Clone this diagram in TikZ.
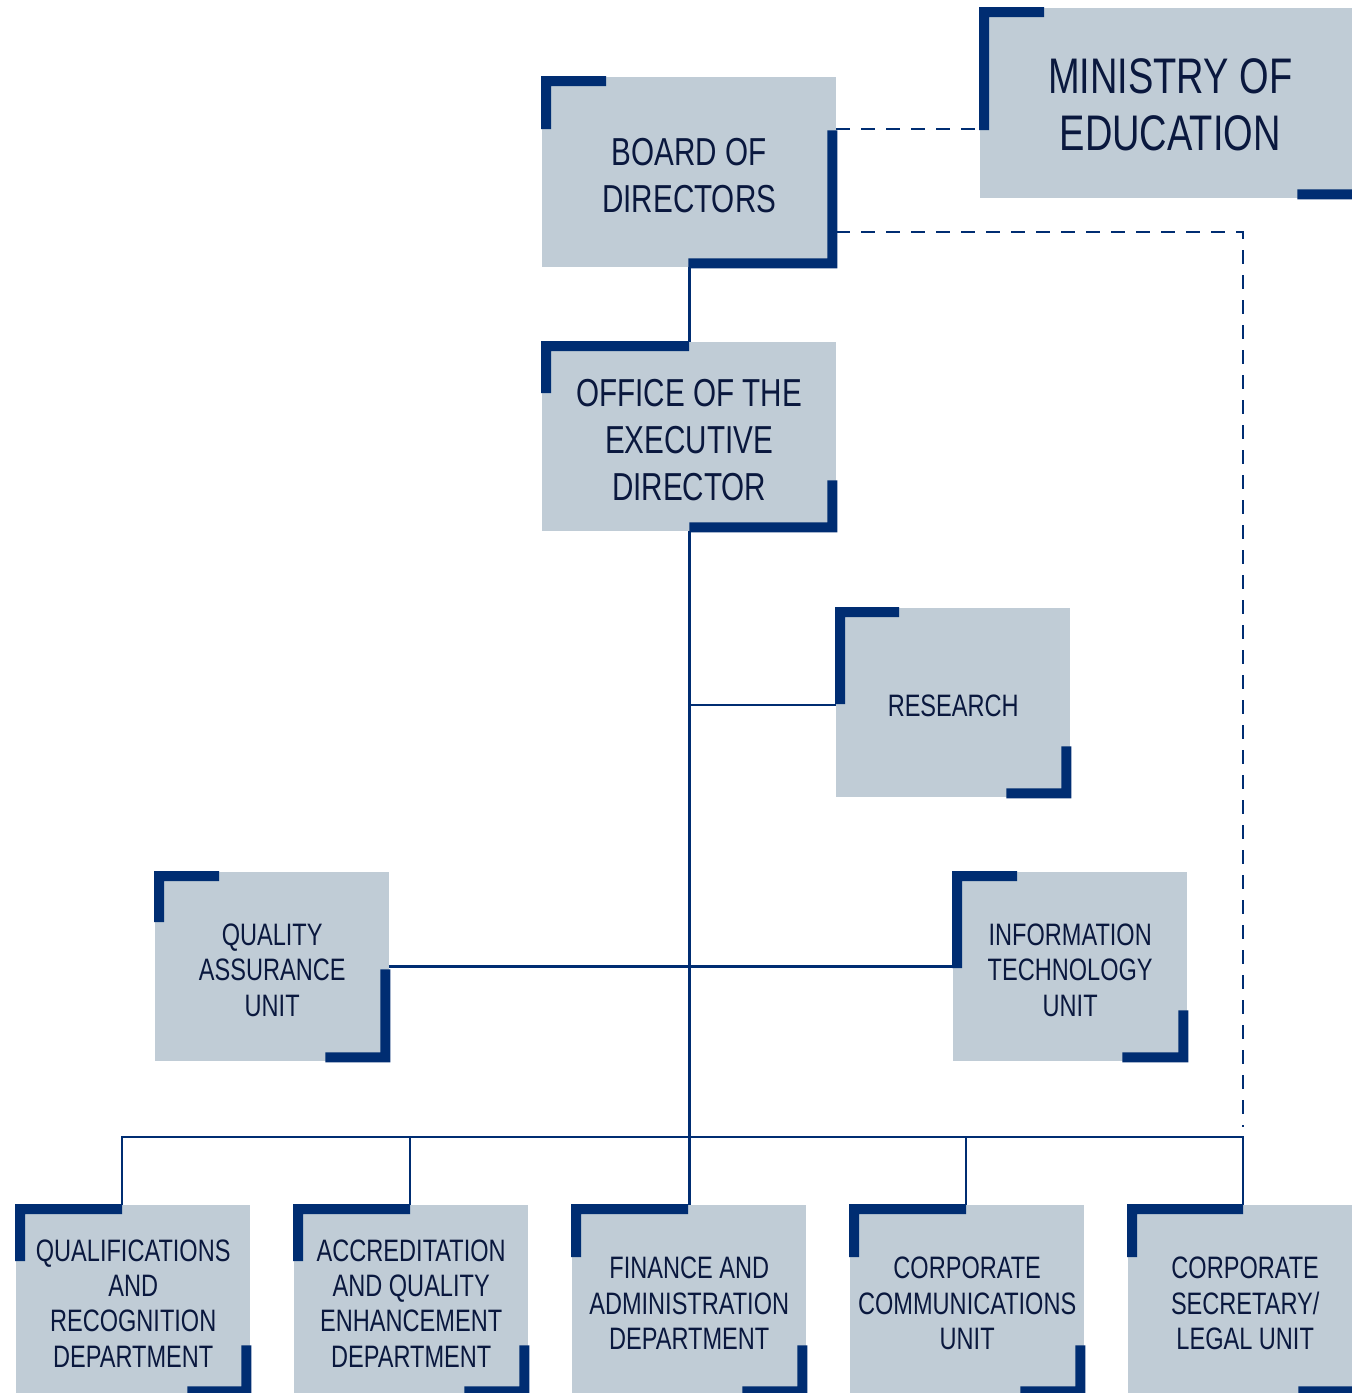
\documentclass[tikz,border=0pt]{standalone}
\usepackage{fontspec}
\setmainfont{Liberation Sans}[FakeStretch=0.76]
\definecolor{boxfill}{RGB}{192,204,214}
\definecolor{navy}{RGB}{0,45,114}
\definecolor{txt}{RGB}{10,24,62}
\newcommand\brk[5]{%
  \fill[navy] ([shift={(-1,-1)}]#1.north west) -- ++(#2,0) -- ++(0,10) -- ++(-#2+10,0) -- ++(0,#3-10) -- ++(-10,0) -- cycle;
  \fill[navy] ([shift={(1,1)}]#1.south east) -- ++(-#4,0) -- ++(0,-10) -- ++(#4-10,0) -- ++(0,-#5+10) -- ++(10,0) -- cycle;
}
\newcommand\lines[1]{\raisebox{-7pt}[\height][\depth]{\begin{tabular}{@{}c@{}}#1\end{tabular}}}
\begin{document}
\begin{tikzpicture}[x=1pt,y=-1pt,
  orgbox/.style={fill=boxfill, inner sep=0pt, anchor=north west, text=txt},
  hugetext/.style={font=\fontsize{50}{57}\selectfont},
  bigtext/.style={font=\fontsize{39}{47}\selectfont},
  smalltext/.style={font=\fontsize{31}{35.3}\selectfont},
  conn/.style={draw=navy, line width=2.6pt},
  dsh/.style={draw=navy, line width=2.6pt, dash pattern=on 14pt off 11pt}]
\clip (0,0) rectangle (1352,1393);
\fill[white] (0,0) rectangle (1352,1393);
% boxes
\node[orgbox, hugetext, minimum width=386pt, minimum height=190pt] (ministry) at (980,8) {\hspace*{-6pt}\lines{MINISTRY OF\\EDUCATION}};
\node[orgbox, bigtext, minimum width=294pt, minimum height=190pt] (board) at (542,77) {\lines{BOARD OF\\DIRECTORS}};
\node[orgbox, bigtext, minimum width=294pt, minimum height=189pt] (office) at (542,342) {\lines{OFFICE OF THE\\EXECUTIVE\\DIRECTOR}};
\node[orgbox, smalltext, minimum width=234pt, minimum height=189pt] (research) at (836,608) {\lines{RESEARCH}};
\node[orgbox, smalltext, minimum width=234pt, minimum height=189pt] (qa) at (155,872) {\lines{QUALITY\\ASSURANCE\\UNIT}};
\node[orgbox, smalltext, minimum width=234pt, minimum height=189pt] (it) at (953,872) {\lines{INFORMATION\\TECHNOLOGY\\UNIT}};
\node[orgbox, smalltext, minimum width=234pt, minimum height=190pt] (qual) at (16,1205) {\lines{QUALIFICATIONS\\AND\\RECOGNITION\\DEPARTMENT}};
\node[orgbox, smalltext, minimum width=234pt, minimum height=190pt] (acc) at (294,1205) {\lines{ACCREDITATION\\AND QUALITY\\ENHANCEMENT\\DEPARTMENT}};
\node[orgbox, smalltext, minimum width=234pt, minimum height=190pt] (fin) at (572,1205) {\lines{FINANCE AND\\ADMINISTRATION\\DEPARTMENT}};
\node[orgbox, smalltext, minimum width=234pt, minimum height=190pt] (comm) at (850,1205) {\lines{CORPORATE\\COMMUNICATIONS\\UNIT}};
\node[orgbox, smalltext, minimum width=234pt, minimum height=190pt] (legal) at (1128,1205) {\lines{CORPORATE\\SECRETARY/\\LEGAL UNIT}};
% coordinates
\coordinate (busL) at (122,1137);
\coordinate (busR) at (1243,1137);
\coordinate (d1) at (978,129);
\coordinate (d2) at (1243,232);
\coordinate (d2s) at (836,232);
\coordinate (d1s) at (836,129);
\coordinate (rs) at (690,705);
\coordinate (re) at (836,705);
\coordinate (f1) at ([shift={(106,0)}]qual.north west);
\coordinate (f2) at ([shift={(116,0)}]acc.north west);
\coordinate (f4) at ([shift={(116,0)}]comm.north west);
\coordinate (f5) at ([shift={(115,0)}]legal.north west);
% connectors
\draw[conn] (board.south) -- (office.north);
\draw[conn] (office.south) -- (fin.north);
\draw[conn] (rs) -- (re);
\draw[conn] (qa.east) -- (it.west);
\draw[conn] (f1) -- (busL) -- (busR) -- (f5);
\draw[conn] (f2) -- (f2 |- busL);
\draw[conn] (f4) -- (f4 |- busL);
\draw[dsh] (d1s) -- (d1);
\draw[dsh] (d2s) -- (d2) -- ([shift={(0,-10)}]busR);
% brackets
\brk{ministry}{65}{123}{70}{52}
\brk{board}{65}{53}{149}{138}
\brk{office}{148}{52}{148}{52}
\brk{research}{64}{97}{65}{52}
\brk{qa}{65}{51}{65}{93}
\brk{it}{65}{97}{66}{52}
\brk{qual}{107}{57}{64}{51}
\brk{acc}{117}{57}{65}{51}
\brk{fin}{117}{53}{65}{51}
\brk{comm}{117}{53}{65}{51}
\brk{legal}{116}{53}{65}{51}
\end{tikzpicture}
\end{document}
